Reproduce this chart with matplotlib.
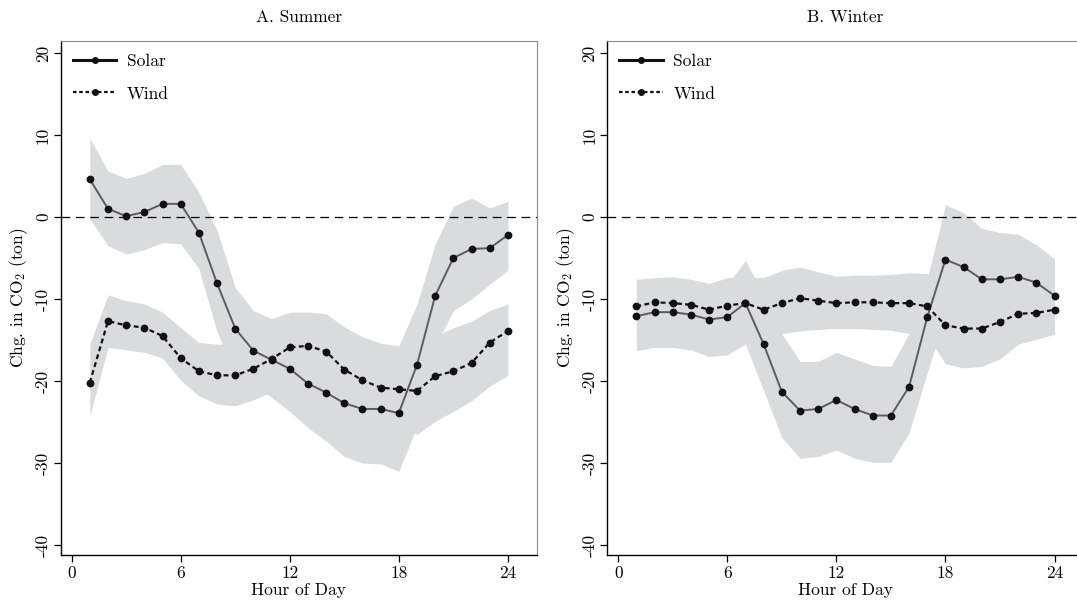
import matplotlib
matplotlib.use("Agg")
import matplotlib.pyplot as plt
from matplotlib.lines import Line2D

# Computer Modern look, like the Stata export
plt.rcParams['font.family'] = 'serif'
plt.rcParams['font.serif'] = ['cmr10', 'DejaVu Serif']
plt.rcParams['mathtext.fontset'] = 'cm'
plt.rcParams['axes.unicode_minus'] = False

hours = list(range(1, 25))

# A. Summer
summer_solar = [4.6, 1.0, 0.1, 0.6, 1.6, 1.6, -1.9, -8.1, -13.6, -16.3, -17.4, -18.5,
                -20.3, -21.4, -22.7, -23.4, -23.4, -23.9, -18.0, -9.6, -5.0, -3.9, -3.8, -2.2]
summer_solar_hi = [9.6, 5.6, 4.7, 5.3, 6.4, 6.4, 3.0, -1.6, -8.6, -11.4, -12.4, -11.6,
                   -11.6, -11.8, -13.4, -14.6, -15.4, -15.7, -10.6, -3.3, 1.3, 2.3, 1.1, 1.9]
summer_solar_lo = [-0.2, -3.5, -4.5, -4.0, -3.1, -3.3, -6.3, -14.0, -19.0, -20.5, -22.0, -23.7,
                   -25.7, -27.3, -29.2, -30.0, -30.1, -31.0, -25.5, -15.8, -11.4, -10.0, -8.2, -6.5]
summer_wind = [-20.2, -12.7, -13.2, -13.5, -14.5, -17.2, -18.8, -19.3, -19.3, -18.5, -17.3, -15.9,
               -15.7, -16.4, -18.6, -19.9, -20.8, -21.0, -21.2, -19.4, -18.8, -17.8, -15.3, -13.9]
summer_wind_hi = [-15.5, -9.5, -10.2, -10.6, -11.6, -13.5, -15.3, -15.5, -15.5, -14.5, -13.3, -12.0,
                  -11.8, -12.5, -14.6, -15.9, -16.8, -17.0, -17.2, -14.5, -13.5, -12.7, -11.4, -10.6]
summer_wind_lo = [-24.3, -15.9, -16.2, -16.5, -17.2, -19.9, -21.8, -22.8, -23.0, -22.3, -21.3, -19.8,
                  -19.6, -20.3, -22.6, -23.9, -24.8, -25.0, -26.5, -24.9, -23.7, -22.4, -20.6, -19.3]

# B. Winter
winter_solar = [-12.1, -11.6, -11.6, -11.9, -12.5, -12.2, -10.5, -15.5, -21.3, -23.6, -23.4, -22.3,
                -23.4, -24.2, -24.2, -20.7, -12.2, -5.2, -6.1, -7.6, -7.6, -7.3, -8.0, -9.6]
winter_solar_hi = [-8.1, -7.6, -7.6, -7.9, -8.5, -8.2, -5.3, -9.5, -14.2, -17.6, -17.6, -16.5,
                   -17.3, -18.1, -18.2, -14.2, -7.5, 1.5, 0.5, -1.4, -1.9, -2.1, -3.4, -5.1]
winter_solar_lo = [-16.3, -15.9, -15.9, -16.2, -17.0, -16.8, -15.5, -21.2, -26.9, -29.4, -29.2, -28.4,
                   -29.4, -29.9, -29.9, -26.3, -19.0, -11.9, -12.7, -13.8, -13.3, -12.5, -12.6, -14.1]
winter_wind = [-10.9, -10.4, -10.5, -10.7, -11.3, -10.8, -10.5, -11.3, -10.5, -9.9, -10.2, -10.5,
               -10.4, -10.4, -10.5, -10.5, -10.9, -13.2, -13.6, -13.6, -12.8, -11.8, -11.7, -11.3]
winter_wind_hi = [-7.6, -7.4, -7.3, -7.6, -8.1, -7.4, -7.3, -7.4, -6.5, -6.1, -6.7, -7.2,
                  -7.1, -7.1, -7.0, -6.8, -6.9, -8.6, -9.0, -9.0, -8.2, -7.2, -7.1, -6.7]
winter_wind_lo = [-14.2, -13.7, -13.8, -14.0, -14.6, -14.1, -13.8, -14.6, -14.2, -13.9, -13.7, -13.6,
                  -13.6, -13.7, -13.8, -14.2, -14.5, -17.9, -18.4, -18.2, -17.3, -15.5, -14.9, -14.3]

panels = [
    ("A. Summer", summer_solar, summer_solar_lo, summer_solar_hi,
     summer_wind, summer_wind_lo, summer_wind_hi),
    ("B. Winter", winter_solar, winter_solar_lo, winter_solar_hi,
     winter_wind, winter_wind_lo, winter_wind_hi),
]

W, H = 1077, 607
fig = plt.figure(figsize=(W / 100, H / 100), dpi=100)

band_col = "#dadbdc"
lefts = [60.7, 607.3]
ax_w = 476.3
ax_top, ax_bot = 41.4, 555

for left, (title, sol, sol_lo, sol_hi, wnd, wnd_lo, wnd_hi) in zip(lefts, panels):
    ax = fig.add_axes([left / W, (H - ax_bot) / H, ax_w / W, (ax_bot - ax_top) / H])
    # confidence bands
    ax.fill_between(hours, sol_lo, sol_hi, color=band_col, lw=0, zorder=1)
    ax.fill_between(hours, wnd_lo, wnd_hi, color=band_col, lw=0, zorder=1)
    # zero line
    ax.axhline(0, color="black", lw=0.9, linestyle=(0, (7, 4.5)), zorder=2)
    # point estimates
    ax.plot(hours, sol, color="#5c5c5c", lw=1.4, marker="o", markersize=4.6,
            markerfacecolor="#111111", markeredgecolor="#111111", zorder=3)
    ax.plot(hours, wnd, color="#111111", lw=1.6, linestyle=(0, (2.2, 1.5)), marker="o",
            markersize=4.6, markerfacecolor="#111111", markeredgecolor="#111111", zorder=4)

    ax.set_xlim(-0.6, 25.6)
    ax.set_ylim(-41.2, 21.4)
    ax.set_xticks([0, 6, 12, 18, 24])
    ax.set_xticklabels(["0", "6", "12", "18", "24"])
    yt = [-40, -30, -20, -10, 0, 10, 20]
    ax.set_yticks(yt)
    ax.set_yticklabels([str(v) for v in yt], rotation=90, va="center")
    ax.tick_params(axis="both", direction="out", length=5, width=0.9, labelsize=12.5,
                   colors="black", pad=3)
    ax.tick_params(axis="y", pad=2)

    for s in ["left", "bottom"]:
        ax.spines[s].set_color("black")
        ax.spines[s].set_linewidth(1.0)
    for s in ["top", "right"]:
        ax.spines[s].set_color("#8a8a8a")
        ax.spines[s].set_linewidth(0.8)

    ax.set_xlabel("Hour of Day", fontsize=12.5, labelpad=1)
    ax.set_ylabel(r"Chg. in CO$_2$ (ton)", fontsize=12.5, labelpad=4)
    ax.set_title(title, fontsize=12.5, pad=14)

    handles = [
        Line2D([], [], color="#111111", lw=2.2, marker="o", markersize=4),
        Line2D([], [], color="#111111", lw=1.6, linestyle=(0, (1.6, 1.2)), marker="o", markersize=4),
    ]
    ax.legend(handles, ["Solar", "Wind"], loc="upper left", frameon=False, fontsize=12.5,
              handlelength=2.5, handletextpad=0.6, labelspacing=1.0,
              borderaxespad=0.3, bbox_to_anchor=(0.0, 1.0))

fig.savefig("out.png", dpi=100)
